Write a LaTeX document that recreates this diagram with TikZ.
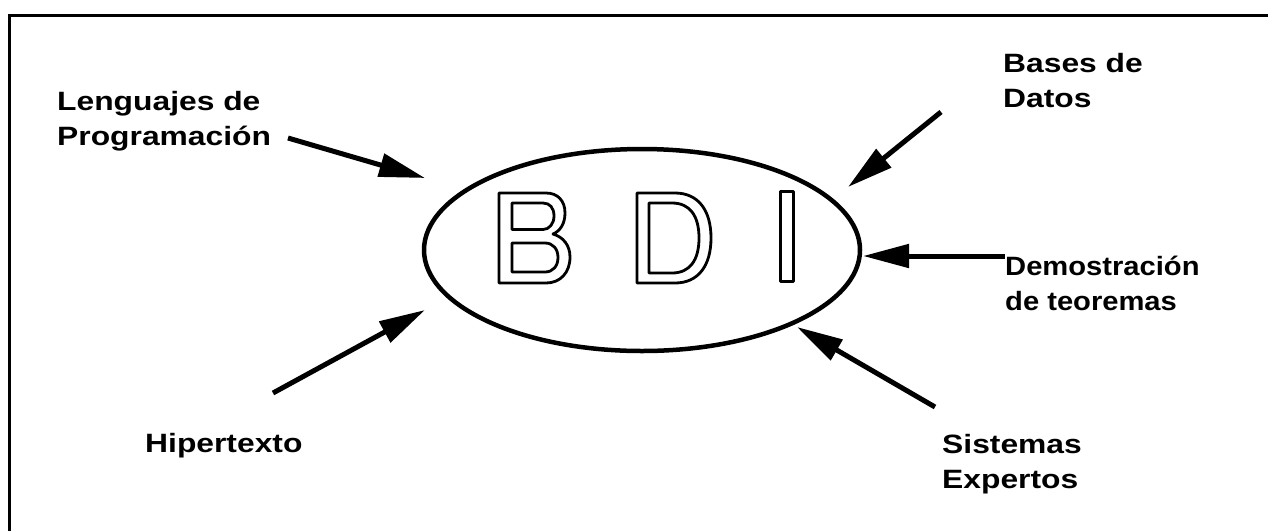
\documentclass[tikz,border=0pt]{standalone}
\usepackage{fontspec}
\setmainfont{Liberation Sans}
\newfontfamily\lblfont[FakeStretch=1.2]{Liberation Sans}
\newfontfamily\lblnarrowfont[FakeStretch=1.1]{Liberation Sans}
\usetikzlibrary{arrows.meta,shapes.geometric}

% two-line label whose baseline is that of its first line
\newcommand\twolines[2]{\begin{tabular}[t]{@{}l@{}}#1\\#2\end{tabular}}

\begin{document}
\begin{tikzpicture}[x=1pt,y=-1pt,
  lbl/.style={anchor=base west, inner sep=0pt,
    font=\lblfont\bfseries\fontsize{26.5}{35}\selectfont},
  lblnarrow/.style={lbl, font=\lblnarrowfont\bfseries\fontsize{26.5}{35}\selectfont},
  feed/.style={line width=5pt, -{Triangle[length=46pt,width=23pt]}},
  letter/.style={line width=2.8pt, line join=round},
  frame/.style={line width=3pt}]

  % page area
  \fill[white] (0,0) rectangle (1268,531);
  \useasboundingbox (0,0) rectangle (1268,531);

  % frame: top and left rules
  \draw[frame] (9,531) -- (9,15) -- (1268,15);

  % central ellipse
  \node[draw, ellipse, line width=4.5pt, minimum width=436pt, minimum height=202pt,
        inner sep=0pt] (bdi) at (642,250) {};

  % outlined letters B, D, I
  % B
  \draw[letter] (499,283) -- (499,193) -- (546,193)
    .. controls (558,193) and (565,201) .. (565,213)
    .. controls (565,224) and (560,231) .. (553,234)
    .. controls (563,237) and (570,245) .. (570,257)
    .. controls (570,273) and (560,283) .. (546,283) -- cycle;
  \draw[letter] (512,203) -- (543,203)
    .. controls (550,203) and (554,208) .. (554,216)
    .. controls (554,224) and (549,229.5) .. (543,229.5) -- (512,229.5) -- cycle;
  \draw[letter] (512,243) -- (545,243)
    .. controls (553,243) and (558,249) .. (558,257.5)
    .. controls (558,266) and (553,272) .. (545,272) -- (512,272) -- cycle;
  % D
  \draw[letter] (637,283) -- (637,193) -- (675,193)
    .. controls (698,193) and (711,210) .. (711,238)
    .. controls (711,266) and (698,283) .. (675,283) -- cycle;
  \draw[letter] (649,203) -- (672,203)
    .. controls (690,203) and (699,216) .. (699,238)
    .. controls (699,260) and (690,273) .. (672,273) -- (649,273) -- cycle;
  % I
  \draw[letter] (780.5,191.5) rectangle (793.5,281.5);

  % surrounding fields
  \node[lbl] (lang)  at (57,110)   {\twolines{Lenguajes de}{Programación}};
  \node[lbl] (bases) at (1003,72)  {\twolines{Bases de}{Datos}};
  \node[lblnarrow] (demo) at (1005,275) {\twolines{Demostración}{de teoremas}};
  \node[lbl] (hiper) at (145,452)  {Hipertexto};
  \node[lbl] (sist)  at (942,453)  {\twolines{Sistemas}{Expertos}};

  % arrow ends
  \coordinate (langS)  at (288,138);
  \coordinate (langT)  at (425,178);
  \coordinate (basesS) at (941,112);
  \coordinate (basesT) at (848,187);
  \coordinate (demoS)  at (1005,256);
  \coordinate (demoT)  at (863,256);
  \coordinate (hiperS) at (273,393);
  \coordinate (hiperT) at (425,310);
  \coordinate (sistS)  at (935,407);
  \coordinate (sistT)  at (797,327);

  \draw[feed] (langS)  -- (langT);
  \draw[feed] (basesS) -- (basesT);
  \draw[feed] (demoS)  -- (demoT);
  \draw[feed] (hiperS) -- (hiperT);
  \draw[feed] (sistS)  -- (sistT);
\end{tikzpicture}
\end{document}
